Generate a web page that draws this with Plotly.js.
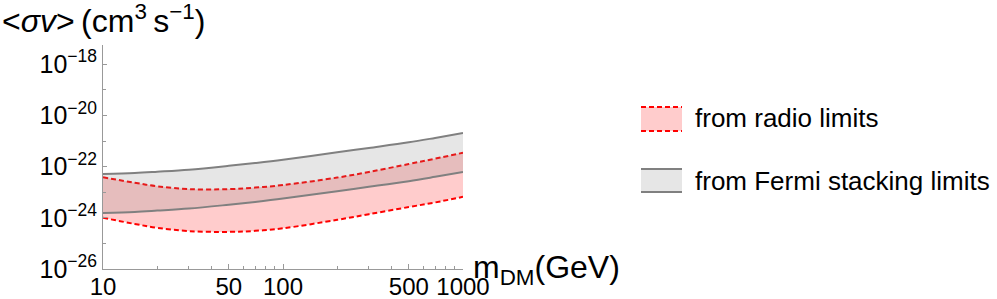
<!DOCTYPE html>
<html>
<head>
<meta charset="utf-8">
<script src="https://cdn.plot.ly/plotly-3.0.1.min.js"></script>
<style>html,body{margin:0;padding:0;background:#fff;}#chart{width:997px;height:299px;}</style>
</head>
<body>
<div id="chart"></div>
<script>
// ---- data ----
const masses = [10, 15, 20, 30, 50, 70, 100, 200, 300, 500, 700, 1000]; // GeV

const radioLower = [1.00e-24, 5.75e-25, 4.07e-25, 3.02e-25, 2.82e-25, 3.09e-25, 3.89e-25, 8.32e-25, 1.38e-24, 2.63e-24, 3.98e-24, 6.61e-24];
const radioUpper = [3.80e-23, 2.34e-23, 1.70e-23, 1.32e-23, 1.32e-23, 1.51e-23, 1.91e-23, 3.72e-23, 6.17e-23, 1.26e-22, 2.04e-22, 3.47e-22];

const fermiLower = [1.55e-24, 1.70e-24, 1.91e-24, 2.29e-24, 3.24e-24, 4.17e-24, 5.62e-24, 1.10e-23, 1.62e-23, 2.69e-23, 3.98e-23, 6.17e-23];
const fermiUpper = [5.13e-23, 5.62e-23, 6.31e-23, 7.59e-23, 1.07e-22, 1.38e-22, 1.86e-22, 3.63e-22, 5.37e-22, 8.91e-22, 1.32e-21, 2.04e-21];

const xTickVals = [10, 50, 100, 500, 1000];
const xTickText = ['10', '50', '100', '500', '1000'];
const xMinorVals = [20, 30, 40, 60, 70, 80, 90, 200, 300, 400, 600, 700, 800, 900];

const yTickVals = [1e-26, 1e-24, 1e-22, 1e-20, 1e-18];
const yTickText = ['10<sup>−26</sup>', '10<sup>−24</sup>', '10<sup>−22</sup>', '10<sup>−20</sup>', '10<sup>−18</sup>'];
const yMinorVals = [1e-25, 1e-23, 1e-21, 1e-19];

const legendLabels = ['from radio limits', 'from Fermi stacking limits'];

// ---- styles ----
const RED = '#ff0000';
const RED_FILL = 'rgba(255,0,0,0.2)';
const GRAY = '#808080';
const GRAY_FILL = 'rgba(128,128,128,0.2)';
const AXIS = '#999999';
const FONT = 'Liberation Sans, Arial, sans-serif';

// plot-area geometry in pixels
const L = 103, R = 463, T = 45, B = 269;
const px = x => (x - L) / (R - L);
const py = y => (B - y) / (B - T);

const redLine = {color: RED, width: 2, dash: '5px,3px', shape: 'spline', smoothing: 1};
const grayLine = {color: GRAY, width: 2, shape: 'spline', smoothing: 1};

const traces = [
  {x: masses, y: radioLower, mode: 'lines', line: redLine, showlegend: false, hoverinfo: 'skip'},
  {x: masses, y: radioUpper, mode: 'lines', line: redLine, fill: 'tonexty', fillcolor: RED_FILL, showlegend: false, hoverinfo: 'skip'},
  {x: masses, y: fermiLower, mode: 'lines', line: grayLine, showlegend: false, hoverinfo: 'skip'},
  {x: masses, y: fermiUpper, mode: 'lines', line: grayLine, fill: 'tonexty', fillcolor: GRAY_FILL, showlegend: false, hoverinfo: 'skip'}
];

// legend swatches (drawn by hand to match the reference look)
const sw = {x0: 641, x1: 682};
const rows = [{y0: 107, y1: 131, ty: 118}, {y0: 169, y1: 192, ty: 181}];
const shapes = [
  {type: 'rect', xref: 'paper', yref: 'paper', x0: px(sw.x0), x1: px(sw.x1), y0: py(rows[0].y0), y1: py(rows[0].y1), fillcolor: RED_FILL, line: {width: 0}},
  {type: 'line', xref: 'paper', yref: 'paper', x0: px(sw.x0), x1: px(sw.x1), y0: py(rows[0].y0), y1: py(rows[0].y0), line: {color: RED, width: 2, dash: '5px,3px'}},
  {type: 'line', xref: 'paper', yref: 'paper', x0: px(sw.x0), x1: px(sw.x1), y0: py(rows[0].y1), y1: py(rows[0].y1), line: {color: RED, width: 2, dash: '5px,3px'}},
  {type: 'rect', xref: 'paper', yref: 'paper', x0: px(sw.x0), x1: px(sw.x1), y0: py(rows[1].y0), y1: py(rows[1].y1), fillcolor: GRAY_FILL, line: {width: 0}},
  {type: 'line', xref: 'paper', yref: 'paper', x0: px(sw.x0), x1: px(sw.x1), y0: py(rows[1].y0), y1: py(rows[1].y0), line: {color: GRAY, width: 2}},
  {type: 'line', xref: 'paper', yref: 'paper', x0: px(sw.x0), x1: px(sw.x1), y0: py(rows[1].y1), y1: py(rows[1].y1), line: {color: GRAY, width: 2}}
];

const annotations = [
  {xref: 'paper', yref: 'paper', x: px(0), y: py(19), xanchor: 'left', yanchor: 'middle', showarrow: false,
   text: '&lt;<i>σv</i>&gt;\u2009(cm<sup>3</sup>\u2009s<sup>−1</sup>)', font: {family: FONT, size: 32, color: '#000'}},
  {xref: 'paper', yref: 'paper', x: px(471), y: py(269), xanchor: 'left', yanchor: 'middle', showarrow: false,
   text: 'm<sub>DM</sub>(GeV)', font: {family: FONT, size: 32, color: '#000'}},
  {xref: 'paper', yref: 'paper', x: px(693), y: py(rows[0].ty), xanchor: 'left', yanchor: 'middle', showarrow: false,
   text: legendLabels[0], font: {family: FONT, size: 26, color: '#000'}},
  {xref: 'paper', yref: 'paper', x: px(693), y: py(rows[1].ty), xanchor: 'left', yanchor: 'middle', showarrow: false,
   text: legendLabels[1], font: {family: FONT, size: 26, color: '#000'}}
];

const layout = {
  width: 997, height: 299,
  margin: {l: L, r: 997 - R, t: T, b: 299 - B, pad: 0},
  paper_bgcolor: '#fff', plot_bgcolor: '#fff',
  showlegend: false,
  hovermode: false,
  xaxis: {
    type: 'log', range: [1, 3],
    tickmode: 'array', tickvals: xTickVals, ticktext: xTickText,
    ticks: 'inside', ticklen: 5, tickwidth: 1, tickcolor: AXIS,
    ticklabelstandoff: -4,
    minor: {tickmode: 'array', tickvals: xMinorVals, ticks: 'inside', ticklen: 3, tickwidth: 1, tickcolor: AXIS, showgrid: false},
    showline: true, linecolor: AXIS, linewidth: 1,
    showgrid: false, zeroline: false,
    tickfont: {family: FONT, size: 24, color: '#000'}
  },
  yaxis: {
    type: 'log', range: [-26, -26 + (B - T) / 25.6],
    tickmode: 'array', tickvals: yTickVals, ticktext: yTickText,
    ticks: 'inside', ticklen: 4, tickwidth: 1, tickcolor: AXIS,
    minor: {tickmode: 'array', tickvals: yMinorVals, ticks: 'inside', ticklen: 2.5, tickwidth: 1, tickcolor: AXIS, showgrid: false},
    showline: true, linecolor: AXIS, linewidth: 1,
    showgrid: false, zeroline: false,
    tickfont: {family: FONT, size: 25, color: '#000'}
  },
  shapes: shapes,
  annotations: annotations
};

Plotly.newPlot('chart', traces, layout, {staticPlot: true, displayModeBar: false});
</script>
</body>
</html>
